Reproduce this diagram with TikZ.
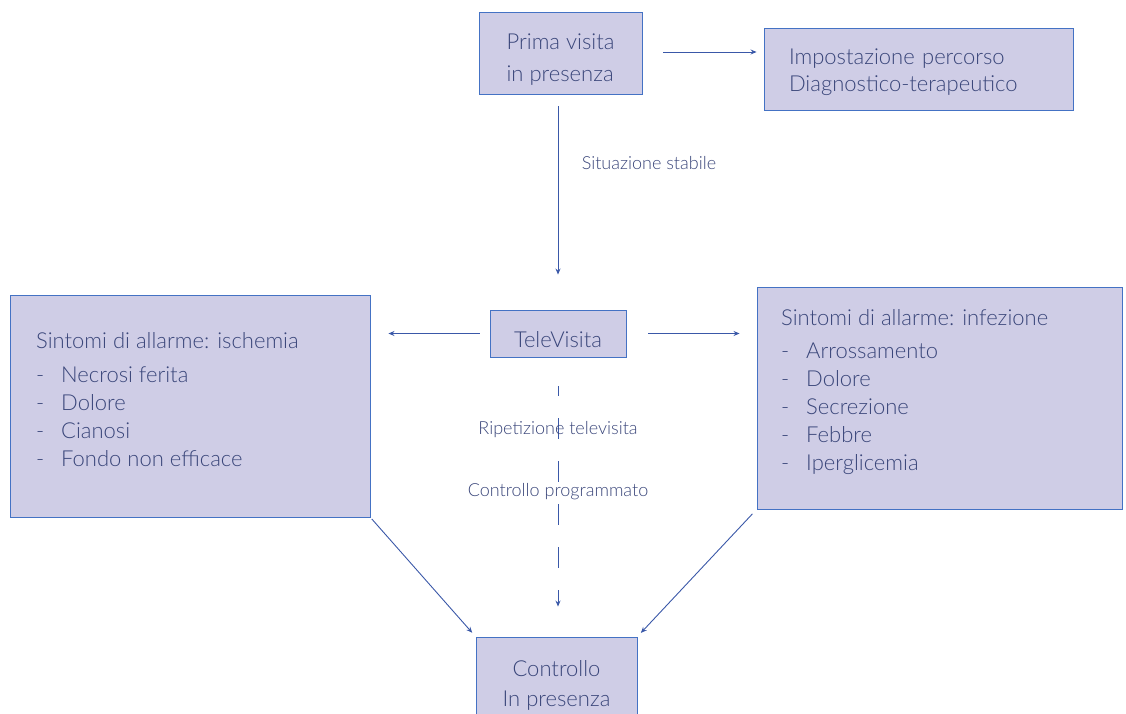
\documentclass[tikz,border=0pt]{standalone}
\usepackage{fontspec}
\setmainfont{Lato Light}
\usetikzlibrary{arrows.meta}

\definecolor{boxfill}{RGB}{207,205,230}
\definecolor{boxline}{RGB}{68,114,196}
\definecolor{txtcol}{RGB}{58,70,122}
\definecolor{arrcol}{RGB}{58,88,168}

\tikzset{
  box/.style={draw=boxline,fill=boxfill,line width=0.9pt,inner sep=0pt,text=txtcol,font=\fontsize{22}{32}\selectfont},
  lbl/.style={text=txtcol,font=\fontsize{18}{20}\selectfont},
  con/.style={arrcol,line width=0.9pt,-{Stealth[length=6pt,width=5pt]}},
}
\newcommand{\itm}{\makebox[25pt][l]{-}}
\newcommand{\lift}[1]{\rule{0pt}{#1}}

\begin{document}
\begin{tikzpicture}[x=1pt,y=-1pt]
\useasboundingbox (0,0) rectangle (1126,714);

% boxes
\node[box,minimum width=163,minimum height=82,align=left] (prima) at (560.5,53) {\lift{28pt}Prima visita\\in presenza};
\node[box,minimum width=309,minimum height=82,text width=259,align=left,font=\fontsize{22}{27}\selectfont] (impost) at (918.5,69) {\lift{23pt}Impostazione percorso\\Diagnostico-terapeutico};
\node[box,minimum width=136,minimum height=47] (tele) at (558,333.5) {\lift{28pt}TeleVisita};
\node[box,minimum width=360,minimum height=222] (ische) at (190,406) {};
\node[box,minimum width=365,minimum height=222] (infez) at (939.5,398) {};
\node[box,minimum width=161,minimum height=90,align=center,font=\fontsize{22}{30}\selectfont] (ctrl) at (556.5,682) {\lift{22pt}Controllo\\In presenza};

% lists
\node[anchor=north west,inner sep=0pt,align=left,text=txtcol,font=\fontsize{22}{28}\selectfont] (ischetxt) at (36,332)
  {Sintomi di allarme: ischemia\\[6pt]
   \itm Necrosi ferita\\ \itm Dolore\\ \itm Cianosi\\ \itm Fondo non efficace};
\node[anchor=north west,inner sep=0pt,align=left,text=txtcol,font=\fontsize{22}{28}\selectfont] (infeztxt) at (781,309)
  {Sintomi di allarme: infezione\\[5pt]
   \itm Arrossamento\\ \itm Dolore\\ \itm Secrezione\\ \itm Febbre\\ \itm Iperglicemia};

% connectors
\draw[con,shorten <=21pt,shorten >=7pt] ([yshift=1pt]prima.east) -- ([yshift=1pt]prima.east -| impost.west);
\draw[con,shorten <=12pt,shorten >=35pt] (prima.south -| tele.north) -- (tele.north)
  node[lbl,pos=0.32,anchor=west,xshift=20pt] {Situazione stabile};
\draw[con,shorten <=10pt,shorten >=18pt] (tele.west) -- (tele.west -| ische.east);
\draw[con,shorten <=22pt,shorten >=17pt] (tele.east) -- (tele.east -| infez.west);
\draw[con,dash pattern=on 21pt off 22pt,dash phase=11pt,shorten <=29pt,shorten >=30pt] (tele.south) -- (tele.south |- ctrl.north)
  node[lbl,pos=0.26] {Ripetizione televisita}
  node[lbl,pos=0.48] {Controllo programmato};
\draw[con,shorten <=2pt,shorten >=5pt] (ische.south east) -- (ctrl.north west);
\draw[con,shorten <=6pt,shorten >=5pt] (infez.south west) -- (ctrl.north east);
\end{tikzpicture}
\end{document}
